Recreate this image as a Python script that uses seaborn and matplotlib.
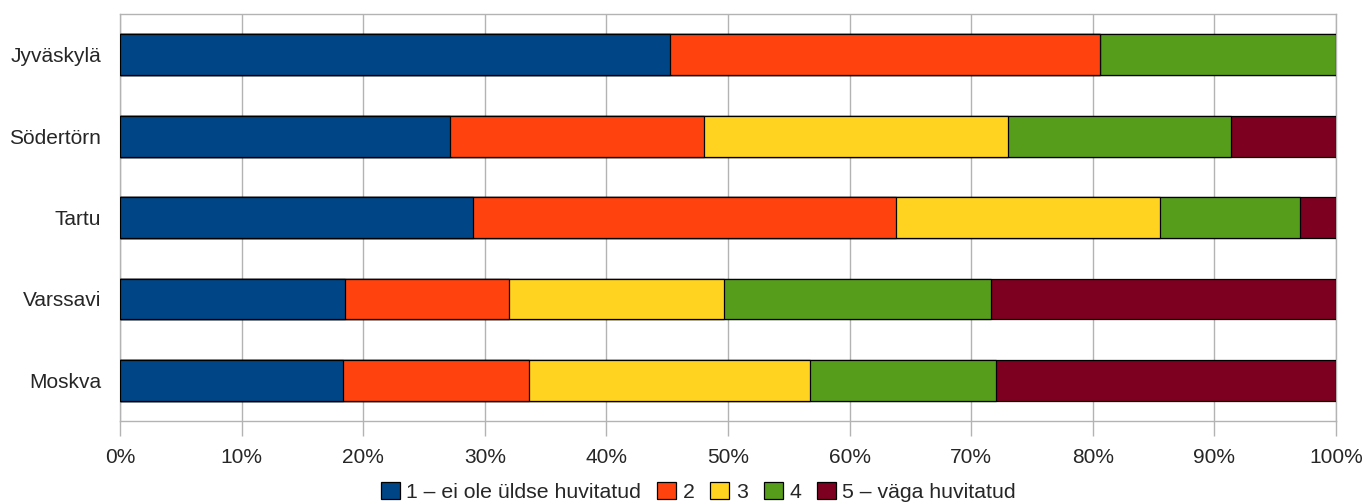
import pandas as pd
import matplotlib.pyplot as plt
import seaborn as sns
from matplotlib.patches import Patch
from matplotlib.ticker import FixedLocator, PercentFormatter

# -------------------------------
# Data (share of answers, %)
# -------------------------------
cities = ["Jyväskylä", "Södertörn", "Tartu", "Varssavi", "Moskva"]
s1 = [45.2, 27.1, 29.0, 18.5, 18.3]
s2 = [35.4, 20.9, 34.8, 13.5, 15.3]
s3 = [0.0, 25.0, 21.7, 17.7, 23.1]
s4 = [19.4, 18.4, 11.5, 21.9, 15.3]
s5 = [0.0, 8.6, 3.0, 28.4, 28.0]
series_names = ["1 – ei ole üldse huvitatud", "2", "3", "4", "5 – väga huvitatud"]
colors = ["#004586", "#ff420e", "#ffd320", "#579d1c", "#7e0021"]

# -------------------------------
# Style
# -------------------------------
sns.set_style("white")
plt.rcParams['font.family'] = ['Liberation Sans', 'DejaVu Sans']
plt.rcParams['font.size'] = 15

df = pd.DataFrame({"city": cities, "s1": s1, "s2": s2, "s3": s3, "s4": s4, "s5": s5})
cols = ["s1", "s2", "s3", "s4", "s5"]
cum = df[cols].cumsum(axis=1)
cum["city"] = df["city"]

fig = plt.figure(figsize=(13.64, 5.03), dpi=100)
ax = fig.add_axes([0.088, 0.163, 0.8915, 0.809])

# stacked bars: draw the cumulative totals from the last series backwards
for col, color in zip(cols[::-1], colors[::-1]):
    sns.barplot(data=cum, x=col, y="city", order=cities, color=color,
                width=0.5, edgecolor="black", linewidth=0.9, ax=ax,
                saturation=1, zorder=3)

# -------------------------------
# Axes
# -------------------------------
ax.set_xlim(0, 100)
ax.set_ylim(4.5, -0.5)
ax.set_xticks(range(0, 101, 10))
ax.xaxis.set_major_formatter(PercentFormatter(decimals=0))
ax.grid(axis="x", color="#b3b3b3", linewidth=1, zorder=0)
ax.set_axisbelow(True)
ax.set_xlabel("")
ax.set_ylabel("")

ax.yaxis.set_minor_locator(FixedLocator([-0.5, 0.5, 1.5, 2.5, 3.5, 4.5]))
ax.tick_params(axis="y", which="major", length=0, pad=13.5, labelsize=15)
ax.tick_params(axis="y", which="minor", length=10, color="#b3b3b3", width=1)
ax.tick_params(axis="x", which="major", length=11, color="#b3b3b3", width=1,
               pad=8.5, labelsize=15, bottom=True)

for side in ["left", "right", "top", "bottom"]:
    ax.spines[side].set_visible(True)
    ax.spines[side].set_color("#b3b3b3")
    ax.spines[side].set_linewidth(1)

# -------------------------------
# Legend
# -------------------------------
handles = [Patch(facecolor=c, edgecolor="black", linewidth=0.9) for c in colors]
fig.legend(handles, series_names, loc="center", bbox_to_anchor=(0.512, 0.022),
           ncol=5, frameon=False, fontsize=15.3, handlelength=0.9,
           handleheight=0.9, handletextpad=0.3, columnspacing=0.75)

plt.savefig("out.png", dpi=100)
